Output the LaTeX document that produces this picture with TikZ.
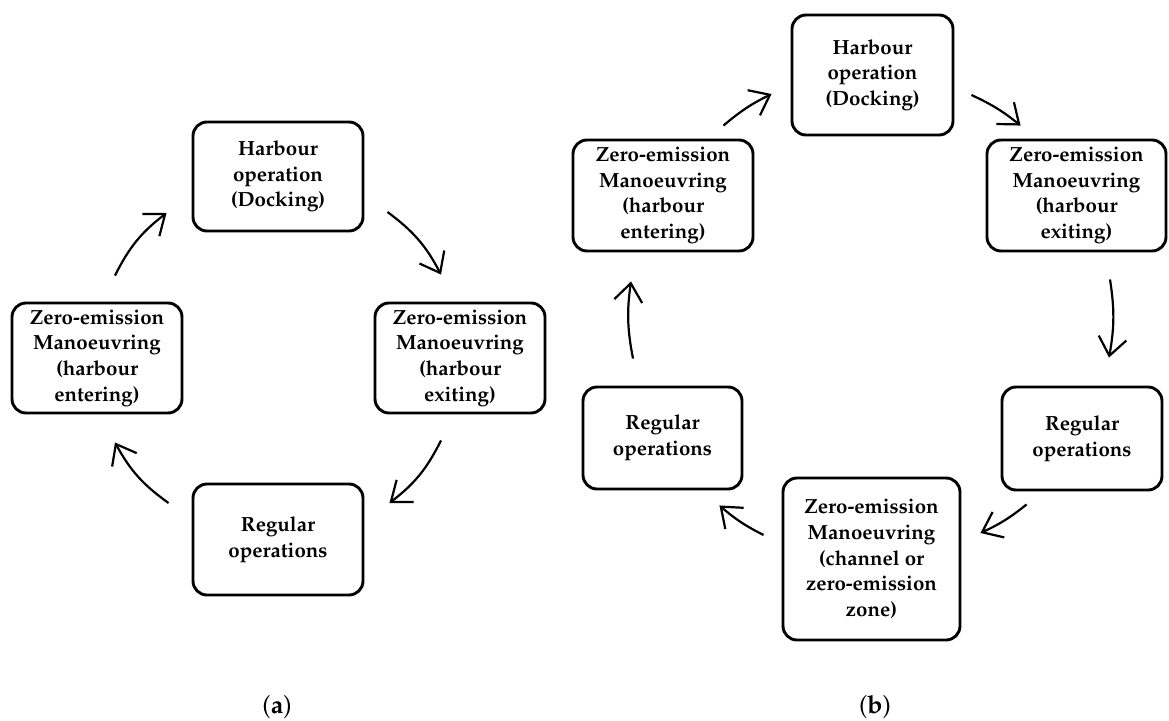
\documentclass[tikz,border=0pt]{standalone}
\usepackage[T1]{fontenc}
\usepackage{mathpazo}
\usetikzlibrary{arrows.meta}
\begin{document}
\begin{tikzpicture}[x=1pt,y=1pt,
  box/.style={draw, line width=2.9pt, rounded corners=14pt, inner sep=0pt, align=center,
    font=\fontsize{20.5}{25.7}\selectfont\bfseries},
  arr/.style={line width=2.2pt, -{Straight Barb[length=18pt,width=28pt]}},
  lab/.style={font=\fontsize{25}{28}\selectfont}]
\useasboundingbox (0,0) rectangle (1169,-720);
% panel (a)
\node[box, minimum width=170pt, minimum height=109pt] (Ah) at (278,-176.5) {Harbour\\operation\\(Docking)};
\node[box, minimum width=170pt, minimum height=110pt] (Aen) at (97,-358) {Zero-emission\\Manoeuvring\\(harbour\\entering)};
\node[box, minimum width=170pt, minimum height=110pt] (Aex) at (460,-358) {Zero-emission\\Manoeuvring\\(harbour\\exiting)};
\node[box, minimum width=170pt, minimum height=111pt] (Ar) at (278,-539.5) {Regular\\operations};
\draw[arr] ([shift={(18,26)}]Aen.north) to[bend left=13] ([shift={(-25,-36.5)}]Ah.west);
\draw[arr] ([shift={(23,-35.5)}]Ah.east) to[bend left=13] ([shift={(-19,27)}]Aex.north);
\draw[arr] ([shift={(-19,-26)}]Aex.south) to[bend left=13] ([shift={(25,36.5)}]Ar.east);
\draw[arr] ([shift={(-23,36.5)}]Ar.west) to[bend left=13] ([shift={(18,-28)}]Aen.south);
\node[lab] (la) at (277,-707) {(\textbf{a})};
% panel (b)
\node[box, minimum width=161pt, minimum height=120pt] (Bh) at (872.5,-75) {Harbour\\operation\\(Docking)};
\node[box, minimum width=180pt, minimum height=111pt] (Ben) at (663,-195.5) {Zero-emission\\Manoeuvring\\(harbour\\entering)};
\node[box, minimum width=179pt, minimum height=111pt] (Bex) at (1076.5,-195.5) {Zero-emission\\Manoeuvring\\(harbour\\exiting)};
\node[box, minimum width=160pt, minimum height=103pt] (Brr) at (1082,-438.5) {Regular\\operations};
\node[box, minimum width=177pt, minimum height=162pt] (Bc) at (871.5,-559) {Zero-emission\\Manoeuvring\\(channel or\\zero-emission\\zone)};
\node[box, minimum width=159pt, minimum height=102pt] (Brl) at (662.5,-438) {Regular\\operations};
\draw[arr] ([shift={(-31,13)}]Ben.north east) to[bend left=7] ([shift={(-19,-19)}]Bh.west);
\draw[arr] ([shift={(17,-20)}]Bh.east) to[bend left=7] ([shift={(35,13)}]Bex.north west);
\draw[arr] ([shift={(33.5,-27)}]Bex.south) to[bend left=9.5] ([shift={(27,28)}]Brr.north);
\draw[arr] ([shift={(26,-13)}]Brr.south west) to[bend left=7] ([shift={(19,26)}]Bc.east);
\draw[arr] ([shift={(-18,24)}]Bc.west) to[bend left=7] ([shift={(-24,-15)}]Brl.south east);
\draw[arr] ([shift={(-29.5,27)}]Brl.north) to[bend left=9.5] ([shift={(-32,-29)}]Ben.south);
\node[lab] (lb) at (875,-707) {(\textbf{b})};
\end{tikzpicture}
\end{document}
